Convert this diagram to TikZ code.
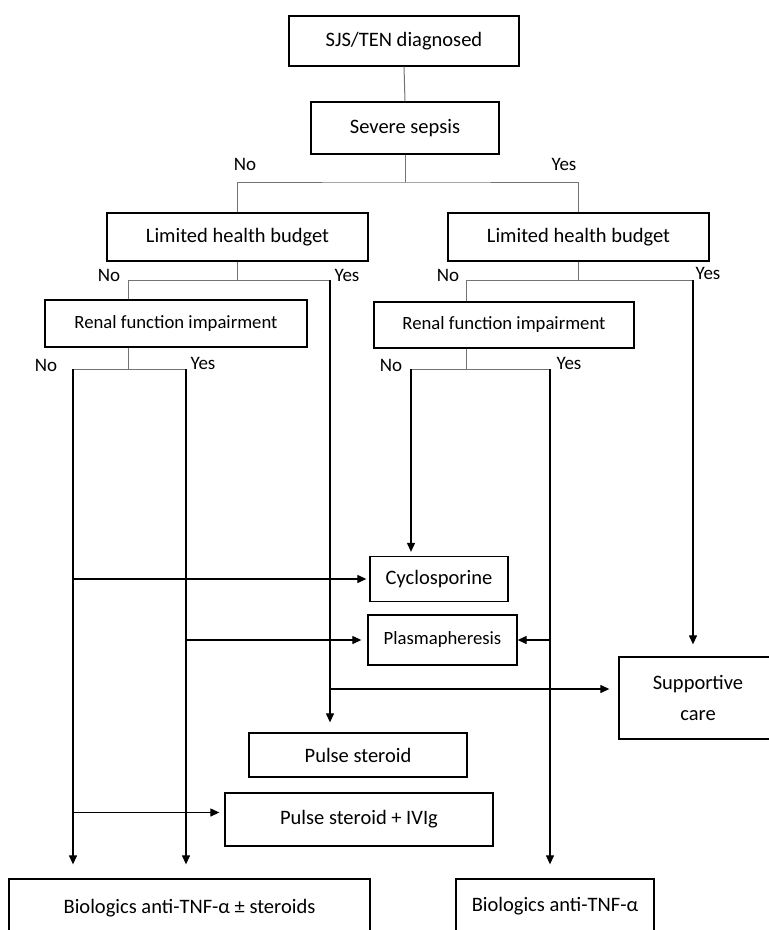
\documentclass[tikz,border=0pt]{standalone}
\usepackage{fontspec}
\setmainfont{Carlito}
\usetikzlibrary{arrows.meta}
\tikzset{
	box/.style={draw, line width=1.3pt, inner sep=0pt, align=center, font=\fontsize{20.5}{31}\selectfont},
	smallbox/.style={box, font=\fontsize{18.7}{24}\selectfont},
	answer/.style={inner sep=0pt, font=\fontsize{19}{23}\selectfont},
	tree/.style={draw=black!55, line width=1pt},
	flow/.style={draw, line width=1.2pt, -{Triangle[length=9pt,width=8pt]}}
}

\begin{document}
\begin{tikzpicture}[x=1pt,y=-1pt]
\useasboundingbox (0,0) rectangle (769,930);
\node (sjs) [box, minimum width=230pt, minimum height=50pt] at (404,41) {SJS/TEN diagnosed};
\node (sepsis) [box, minimum width=188pt, minimum height=52pt] at (405,128) {Severe sepsis};
\node (lhbL) [box, minimum width=261pt, minimum height=48pt] at (237.5,237) {Limited health budget};
\node (lhbR) [box, minimum width=261pt, minimum height=48pt] at (578.5,237) {Limited health budget};
\node (renL) [smallbox, minimum width=262pt, minimum height=47pt] at (176,323.5) {Renal function impairment};
\node (renR) [smallbox, minimum width=260pt, minimum height=46pt] at (504,325) {Renal function impairment};
\node (cyclo) [box, minimum width=138pt, minimum height=45pt] at (439,579) {Cyclosporine};
\node (plasma) [smallbox, minimum width=149pt, minimum height=50pt] at (442.5,640) {Plasmapheresis};
\node (support) [box, minimum width=158pt, minimum height=82pt] at (698,698) {Supportive\\care};
\node (pulse) [box, minimum width=218pt, minimum height=44pt] at (358,755) {Pulse steroid};
\node (ivig) [box, minimum width=268pt, minimum height=53pt] at (359,819.5) {Pulse steroid + IVIg};
\node (bioL) [box, minimum width=361pt, minimum height=58pt] at (189.5,908) {Biologics anti-TNF-α ± steroids};
\node (bioR) [box, minimum width=198pt, minimum height=54pt] at (555,906) {Biologics anti-TNF-α};
% split points
\coordinate (sepsisSplit) at (405,182);
\coordinate (lhbLNo) at (128,280); \coordinate (lhbLYes) at (330,280);
\coordinate (lhbRNo) at (466,280); \coordinate (lhbRYes) at (693,280);
\coordinate (renLNo) at (73,369); \coordinate (renLYes) at (186,369);
\coordinate (renRNo) at (411,369); \coordinate (renRYes) at (550,369);
\coordinate (supportIn) at ([yshift=9pt]support.west);
\coordinate (ivigIn) at ([yshift=7pt]ivig.west);
% answers
\node (sepsisNoLbl) [answer] at (245,164) {No};
\node (sepsisYesLbl) [answer] at (564,164) {Yes};
\node (lhbLNoLbl) [answer] at (109,275) {No};
\node (lhbLYesLbl) [answer] at (347,275) {Yes};
\node (lhbRNoLbl) [answer] at (448,275) {No};
\node (lhbRYesLbl) [answer] at (708,273) {Yes};
\node (renLNoLbl) [answer] at (46,365) {No};
\node (renLYesLbl) [answer] at (203,363) {Yes};
\node (renRNoLbl) [answer] at (391,365) {No};
\node (renRYesLbl) [answer] at (569,363) {Yes};
% tree
\draw[tree] (sjs.south) -- (sepsis.north);
\draw[tree] (sepsis.south) -- (sepsisSplit);
\draw[tree] (lhbL.north) |- (sepsisSplit) -| (lhbR.north);
\draw[tree] (lhbL.south) -- (lhbL.south |- lhbLNo);
\draw[tree] (lhbLNo |- renL.north) -- (lhbLNo) -- (lhbLYes);
\draw[tree] (lhbR.south) -- (lhbR.south |- lhbRNo);
\draw[tree] (lhbRNo |- renR.north) -- (lhbRNo) -- (lhbRYes);
\draw[tree] (lhbLNo |- renL.south) -- (lhbLNo |- renLNo);
\draw[tree] (renLNo) -- (renLYes);
\draw[tree] (lhbRNo |- renR.south) -- (lhbRNo |- renRNo);
\draw[tree] (renRNo) -- (renRYes);
% flows
\draw[flow, shorten >=10pt] (lhbLYes) -- (lhbLYes |- pulse.north);
\draw[flow, shorten >=9pt] (lhbLYes |- supportIn) -- (supportIn);
\draw[flow, shorten >=12pt] (lhbRYes) -- (lhbRYes |- support.north);
\draw[flow, shorten >=14pt] (renLNo) -- (renLNo |- bioL.north);
\draw[flow, shorten >=14pt] (renLYes) -- (renLYes |- bioL.north);
\draw[flow, shorten >=3pt] (renLNo |- cyclo.west) -- (cyclo.west);
\draw[flow, shorten >=5pt] (renLNo |- ivigIn) -- (ivigIn);
\draw[flow, shorten >=6pt] (renLYes |- plasma.west) -- (plasma.west);
\draw[flow, shorten >=4pt] (renRNo) -- (renRNo |- cyclo.north);
\draw[flow, shorten >=14pt] (renRYes) -- (renRYes |- bioR.north);
\draw[flow] (renRYes |- plasma.east) -- (plasma.east);
\end{tikzpicture}
\end{document}
